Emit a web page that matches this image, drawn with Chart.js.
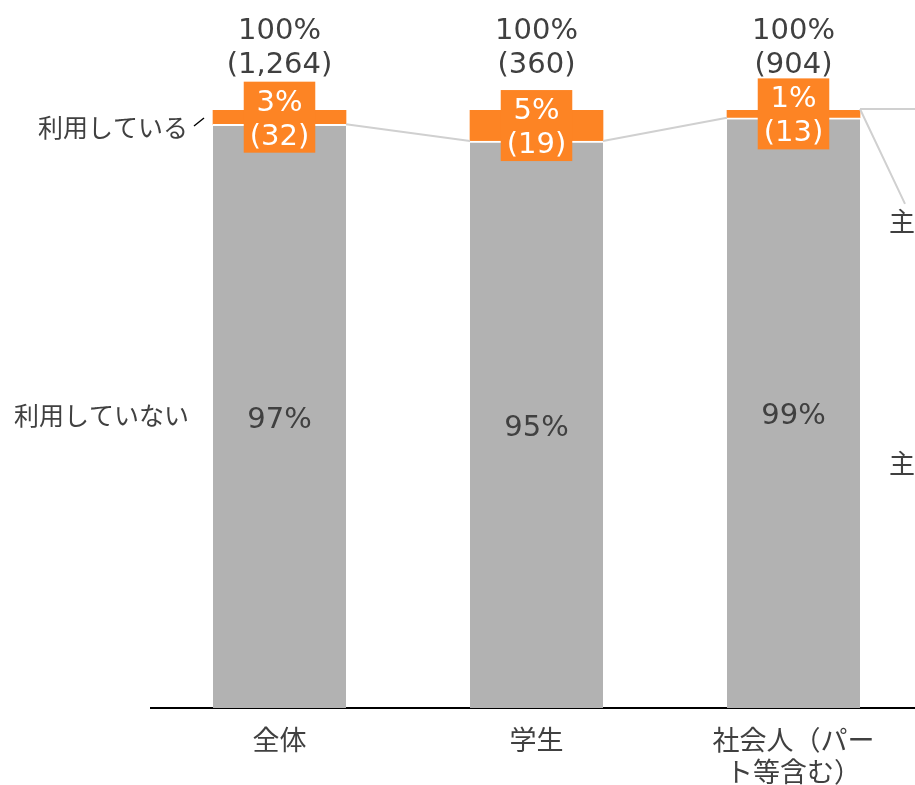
<!DOCTYPE html>
<html>
<head>
<meta charset="utf-8">
<script src="https://cdn.jsdelivr.net/npm/chart.js@4/dist/chart.umd.min.js"></script>
<style>
  html, body { margin: 0; padding: 0; background: #fff; }
  #wrap { width: 915px; height: 785px; overflow: hidden; }
</style>
</head>
<body>
<div id="wrap"><canvas id="usage" width="1179" height="785"></canvas></div>
<script>
// categories (4th one continues off the right edge of the picture)
var categories = ['全体', '学生', ['社会人（パー', 'ト等含む）'], ''];

// shares in %
var notUsing = [97.6, 94.8, 98.7, null];
var using = [2.4, 5.2, 1.3, null];

// label texts as printed on the chart
var notUsingLabels = ['97%', '95%', '99%'];
var usingLabels = [['3%', '(32)'], ['5%', '(19)'], ['1%', '(13)']];
var totalLabels = [['100%', '(1,264)'], ['100%', '(360)'], ['100%', '(904)']];

var seriesNames = ['利用していない', '利用している'];

var GRAY = '#b2b2b2';
var ORANGE = '#fd8424';
var TEXT = '#404040';
var FONT = "'DejaVu Sans', 'Noto Sans CJK JP', sans-serif";

var labelPlugin = {
  id: 'labels',
  afterDatasetsDraw: function(chart) {
    var ctx = chart.ctx;
    var gray = chart.getDatasetMeta(0).data;
    var orange = chart.getDatasetMeta(1).data;
    var y = chart.scales.y;
    ctx.save();

    // series lines between the tops of the gray segments
    ctx.strokeStyle = '#d0d0d0';
    ctx.lineWidth = 2;
    for (var i = 0; i < 2; i++) {
      var a = gray[i], b = gray[i + 1];
      ctx.beginPath();
      ctx.moveTo(a.x + a.width / 2, a.y);
      ctx.lineTo(b.x - b.width / 2, b.y);
      ctx.stroke();
    }
    // lines running off to the right side
    var last = orange[2];
    var rx = last.x + last.width / 2;
    ctx.beginPath();
    ctx.moveTo(rx, last.y - 1);
    ctx.lineTo(chart.width, last.y - 1);
    ctx.moveTo(rx, last.y - 1);
    ctx.lineTo(rx + 45, y.getPixelForValue(84.3));
    ctx.stroke();

    ctx.textAlign = 'center';
    ctx.textBaseline = 'middle';
    ctx.font = '29px ' + FONT;

    for (var i = 0; i < 3; i++) {
      var g = gray[i], o = orange[i];
      // gray segment value
      ctx.fillStyle = TEXT;
      ctx.fillText(notUsingLabels[i], g.x, (g.y + g.base) / 2 + 4);

      // totals above the bar
      ctx.fillText(totalLabels[i][0], o.x, o.y - 79);
      ctx.fillText(totalLabels[i][1], o.x, o.y - 45);

      // orange label box
      var cy = (o.y + o.base) / 2;
      var w = Math.max(ctx.measureText(usingLabels[i][0]).width, ctx.measureText(usingLabels[i][1]).width) + 12;
      ctx.fillStyle = ORANGE;
      ctx.fillRect(o.x - w / 2, cy - 35.5, w, 71);
      ctx.fillStyle = '#fff';
      ctx.fillText(usingLabels[i][0], o.x, cy - 14);
      ctx.fillText(usingLabels[i][1], o.x, cy + 20);
    }

    // series names on the left
    var g0 = gray[0], o0 = orange[0];
    var left = g0.x - g0.width / 2;
    ctx.font = '25px ' + FONT;
    ctx.fillStyle = TEXT;
    ctx.textAlign = 'right';
    ctx.fillText(seriesNames[1], left - 25, o0.y + 20);
    ctx.fillText(seriesNames[0], left - 24, (g0.y + g0.base) / 2 + 2);
    ctx.strokeStyle = '#000';
    ctx.lineWidth = 1.5;
    ctx.beginPath();
    ctx.moveTo(left - 19, o0.y + 16);
    ctx.lineTo(left - 9, o0.y + 8);
    ctx.stroke();

    // labels of the next (cut off) group
    ctx.font = '26px ' + FONT;
    ctx.textAlign = 'left';
    ctx.fillText('主', rx + 29, 224);
    ctx.fillText('主', rx + 29, 466);

    ctx.restore();
  }
};

var ctx = document.getElementById('usage').getContext('2d');
var usage = new Chart(ctx, {
  type: 'bar',
  data: {
    labels: categories,
    datasets: [{
      label: seriesNames[0],
      data: notUsing,
      backgroundColor: GRAY,
      borderColor: '#fff',
      borderWidth: { top: 2, left: 0, right: 0, bottom: 0 },
      borderSkipped: false,
      barThickness: 133
    }, {
      label: seriesNames[1],
      data: using,
      backgroundColor: ORANGE,
      borderWidth: 0,
      barThickness: 133
    }]
  },
  options: {
    responsive: false,
    animation: false,
    devicePixelRatio: 1,
    layout: { padding: { left: 151, top: 110, right: 0, bottom: 0 } },
    plugins: {
      legend: { display: false },
      tooltip: { enabled: false }
    },
    scales: {
      x: {
        stacked: true,
        grid: { display: false },
        border: { display: true, color: '#000', width: 2 },
        ticks: {
          color: TEXT,
          font: { family: FONT, size: 27, lineHeight: 1.19 },
          padding: 11,
          maxRotation: 0,
          autoSkip: false
        },
        afterFit: function(scale) { scale.height = 77; }
      },
      y: {
        stacked: true,
        display: false,
        min: 0,
        max: 100
      }
    }
  },
  plugins: [labelPlugin]
});
</script>
</body>
</html>
